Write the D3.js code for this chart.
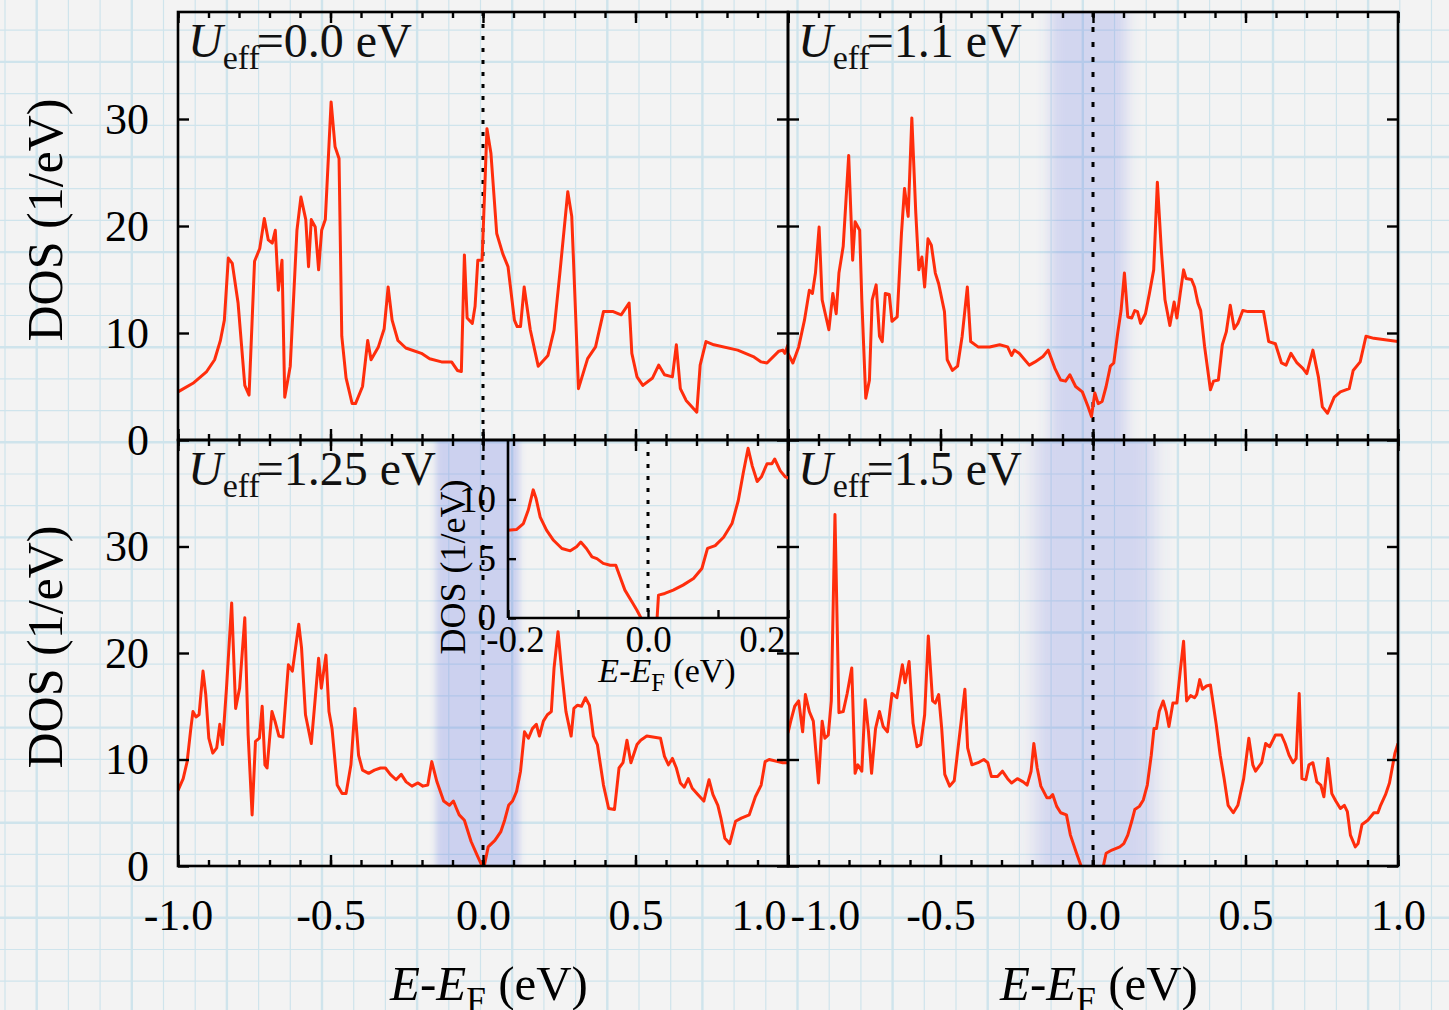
<!DOCTYPE html>
<html>
<head>
<meta charset="utf-8">
<script src="https://cdn.jsdelivr.net/npm/d3@7"></script>
<style>
html, body { margin: 0; padding: 0; background: #f3f3f3; }
svg { display: block; font-family: "Liberation Serif", "Times New Roman", serif; }
</style>
</head>
<body>
<div id="chart"></div>
<script>
// ---- data ----
const energyTicks = [-1.0, -0.5, 0.0, 0.5, 1.0];
const energyMinor = d3.range(-10, 11).map(i => i / 10);
const dosTicks = [0, 10, 20, 30];
const insetEnergyTicks = [-0.2, 0.0, 0.2];
const insetEnergyMinor = [-0.2, -0.1, 0.0, 0.1, 0.2];
const insetDosTicks = [0, 5, 10];
const uLabels = ["0.0", "1.1", "1.25", "1.5"];
// shaded gap windows (eV) for each panel
const gapWindows = [null, [-0.14, 0.11], [-0.155, 0.12], [-0.19, 0.2]];

const dosU00 = [[-1.0,4.5],[-0.951,5.3],[-0.906,6.4],[-0.880,7.5],[-0.861,9.3],[-0.848,11.2],[-0.835,17.0],[-0.822,16.5],[-0.803,12.8],[-0.781,5.1],[-0.767,4.2],[-0.749,16.7],[-0.732,17.9],[-0.717,20.7],[-0.704,18.7],[-0.691,18.4],[-0.681,19.6],[-0.671,14.0],[-0.659,16.8],[-0.650,4.0],[-0.632,6.9],[-0.610,19.6],[-0.597,22.7],[-0.581,20.6],[-0.572,16.2],[-0.563,20.6],[-0.550,19.9],[-0.539,15.9],[-0.529,19.6],[-0.517,20.6],[-0.498,31.6],[-0.485,27.4],[-0.472,26.3],[-0.463,9.7],[-0.449,5.8],[-0.429,3.4],[-0.418,3.4],[-0.395,5.0],[-0.378,9.3],[-0.367,7.5],[-0.343,8.7],[-0.324,10.4],[-0.311,14.3],[-0.298,11.2],[-0.279,9.3],[-0.253,8.6],[-0.202,8.1],[-0.175,7.6],[-0.136,7.3],[-0.103,7.3],[-0.084,6.5],[-0.071,6.4],[-0.061,17.3],[-0.052,11.4],[-0.035,10.9],[-0.026,12.5],[-0.017,16.8],[-0.003,16.8],[0.013,29.1],[0.026,26.8],[0.045,19.3],[0.065,17.4],[0.082,16.2],[0.103,11.2],[0.112,10.6],[0.123,10.6],[0.135,14.3],[0.155,10.3],[0.181,6.9],[0.213,7.9],[0.233,10.3],[0.252,15.6],[0.278,23.2],[0.291,20.9],[0.304,11.5],[0.313,4.8],[0.343,7.6],[0.369,8.7],[0.395,12.0],[0.427,12.0],[0.453,11.7],[0.479,12.8],[0.488,8.1],[0.505,5.9],[0.524,5.1],[0.556,5.8],[0.576,7.0],[0.595,6.1],[0.621,5.9],[0.634,8.9],[0.647,4.8],[0.666,3.7],[0.701,2.6],[0.712,7.0],[0.731,9.2],[0.757,8.9],[0.835,8.4],[0.886,7.8],[0.912,7.3],[0.931,7.2],[0.970,8.3],[0.983,8.4],[0.990,8.1],[1.0,8.9]];

const dosU11 = [[-1.0,8.1],[-0.984,7.2],[-0.965,8.7],[-0.946,11.2],[-0.930,14.0],[-0.920,13.7],[-0.910,15.6],[-0.898,19.9],[-0.888,13.1],[-0.866,10.3],[-0.853,13.7],[-0.842,11.8],[-0.833,15.6],[-0.819,18.1],[-0.801,26.6],[-0.788,16.8],[-0.780,20.4],[-0.765,19.6],[-0.758,13.1],[-0.745,3.9],[-0.733,5.6],[-0.724,13.1],[-0.711,14.5],[-0.700,9.7],[-0.691,9.2],[-0.681,13.7],[-0.668,13.6],[-0.659,11.1],[-0.642,11.5],[-0.628,19.3],[-0.618,23.5],[-0.606,20.9],[-0.594,30.1],[-0.581,21.2],[-0.571,15.9],[-0.561,17.1],[-0.552,14.3],[-0.541,18.8],[-0.530,18.2],[-0.517,15.6],[-0.506,14.6],[-0.487,12.0],[-0.478,7.5],[-0.461,6.5],[-0.444,6.9],[-0.429,9.7],[-0.412,14.3],[-0.401,9.2],[-0.377,8.7],[-0.339,8.7],[-0.306,8.9],[-0.280,8.7],[-0.267,7.9],[-0.258,8.4],[-0.242,8.1],[-0.209,7.0],[-0.190,7.3],[-0.164,7.8],[-0.147,8.4],[-0.125,6.7],[-0.106,5.6],[-0.090,5.5],[-0.076,6.1],[-0.057,5.0],[-0.035,4.5],[-0.016,3.1],[-0.005,2.2],[0.006,4.4],[0.017,3.4],[0.030,3.6],[0.043,5.0],[0.057,6.9],[0.068,7.2],[0.081,10.0],[0.092,12.1],[0.103,15.6],[0.114,11.5],[0.127,11.4],[0.137,12.1],[0.146,12.0],[0.156,10.9],[0.172,11.8],[0.185,13.7],[0.199,15.9],[0.211,24.1],[0.224,17.8],[0.236,13.1],[0.252,10.7],[0.266,12.9],[0.275,11.4],[0.286,13.7],[0.297,15.9],[0.305,15.1],[0.323,15.0],[0.333,14.3],[0.344,12.8],[0.353,12.1],[0.366,8.7],[0.385,4.7],[0.395,5.5],[0.411,5.6],[0.424,8.9],[0.437,10.1],[0.450,12.6],[0.463,10.4],[0.475,10.9],[0.491,12.1],[0.508,12.0],[0.559,12.0],[0.576,9.2],[0.598,9.0],[0.618,7.2],[0.633,7.0],[0.649,8.1],[0.669,7.2],[0.688,6.7],[0.701,6.2],[0.721,8.4],[0.739,5.9],[0.752,3.1],[0.769,2.5],[0.791,4.0],[0.811,4.5],[0.840,4.8],[0.853,6.5],[0.876,7.3],[0.895,9.7],[0.921,9.5],[1.0,9.2]];

const dosU125 = [[-1.0,7.1],[-0.983,8.2],[-0.970,9.8],[-0.958,12.9],[-0.951,14.5],[-0.941,14.0],[-0.931,14.2],[-0.918,18.3],[-0.909,16.1],[-0.899,12.0],[-0.886,10.6],[-0.873,11.1],[-0.863,13.3],[-0.854,11.4],[-0.841,16.7],[-0.824,24.7],[-0.811,14.8],[-0.798,16.7],[-0.781,23.3],[-0.770,12.3],[-0.757,4.8],[-0.746,11.7],[-0.733,12.0],[-0.724,15.0],[-0.715,9.5],[-0.708,9.2],[-0.692,14.5],[-0.682,13.6],[-0.669,12.2],[-0.656,12.1],[-0.638,18.9],[-0.625,18.3],[-0.604,22.7],[-0.595,20.5],[-0.582,14.2],[-0.563,11.5],[-0.552,15.1],[-0.539,19.5],[-0.530,16.7],[-0.515,19.8],[-0.505,14.5],[-0.495,12.9],[-0.478,7.6],[-0.462,6.8],[-0.449,6.8],[-0.433,9.5],[-0.420,14.8],[-0.408,10.4],[-0.395,9.0],[-0.375,8.7],[-0.356,9.0],[-0.336,9.2],[-0.320,9.2],[-0.304,8.6],[-0.285,8.1],[-0.268,8.6],[-0.252,7.9],[-0.233,7.5],[-0.213,7.8],[-0.197,7.5],[-0.181,7.6],[-0.168,9.8],[-0.151,7.9],[-0.129,6.1],[-0.110,5.7],[-0.097,6.1],[-0.087,5.4],[-0.078,4.8],[-0.061,4.3],[-0.039,2.3],[-0.019,1.0],[-0.003,0.0],[0.004,0.0],[0.017,1.8],[0.039,2.4],[0.058,3.2],[0.071,4.3],[0.084,5.7],[0.097,6.1],[0.110,7.0],[0.123,8.9],[0.136,12.6],[0.149,12.0],[0.162,12.9],[0.175,13.3],[0.185,12.2],[0.198,13.6],[0.211,14.2],[0.224,14.5],[0.233,18.6],[0.246,22.0],[0.259,18.0],[0.272,14.5],[0.289,12.2],[0.298,14.8],[0.310,15.1],[0.323,15.0],[0.336,15.8],[0.349,15.1],[0.362,12.2],[0.375,11.4],[0.395,7.6],[0.412,5.4],[0.431,5.3],[0.446,9.2],[0.459,9.7],[0.472,11.8],[0.485,9.7],[0.505,11.4],[0.517,11.8],[0.537,12.2],[0.582,12.0],[0.595,10.3],[0.608,9.5],[0.621,10.1],[0.634,9.2],[0.647,7.8],[0.660,7.4],[0.673,8.2],[0.686,7.3],[0.705,6.7],[0.724,6.1],[0.741,8.1],[0.754,6.7],[0.770,5.7],[0.780,4.5],[0.793,2.6],[0.809,2.1],[0.828,4.2],[0.847,4.5],[0.873,4.8],[0.893,6.5],[0.912,7.6],[0.925,9.8],[0.938,10.0],[0.983,9.7],[1.0,9.7]];

const dosU15 = [[-1.0,12.5],[-0.991,13.6],[-0.978,15.0],[-0.965,15.5],[-0.952,12.6],[-0.943,16.1],[-0.930,14.5],[-0.917,13.6],[-0.900,7.8],[-0.888,13.6],[-0.879,12.0],[-0.868,12.3],[-0.858,15.5],[-0.846,33.0],[-0.833,14.4],[-0.819,14.5],[-0.806,16.2],[-0.791,18.6],[-0.780,8.7],[-0.771,9.5],[-0.758,8.9],[-0.747,15.6],[-0.736,12.6],[-0.726,8.7],[-0.713,12.9],[-0.700,14.5],[-0.688,13.1],[-0.674,12.6],[-0.659,16.2],[-0.643,15.8],[-0.625,18.9],[-0.616,17.2],[-0.603,19.2],[-0.590,13.4],[-0.577,11.2],[-0.565,11.4],[-0.552,14.2],[-0.540,21.6],[-0.526,15.5],[-0.517,15.3],[-0.506,16.1],[-0.496,12.9],[-0.486,8.6],[-0.470,7.5],[-0.455,8.0],[-0.435,12.9],[-0.420,16.6],[-0.411,11.1],[-0.397,9.5],[-0.377,9.7],[-0.358,10.0],[-0.345,9.7],[-0.333,8.4],[-0.313,8.4],[-0.297,8.9],[-0.280,8.2],[-0.267,7.8],[-0.248,8.2],[-0.229,7.9],[-0.216,7.6],[-0.203,8.9],[-0.194,11.5],[-0.183,9.2],[-0.171,7.5],[-0.151,6.4],[-0.142,6.4],[-0.132,6.7],[-0.119,5.6],[-0.106,5.0],[-0.087,4.8],[-0.074,2.9],[-0.054,1.2],[-0.039,0.0],[0.0,null],[0.034,0.0],[0.043,1.2],[0.062,1.5],[0.088,1.8],[0.101,2.1],[0.114,2.9],[0.127,4.2],[0.137,5.3],[0.152,5.6],[0.165,6.2],[0.178,7.6],[0.191,10.4],[0.200,12.9],[0.208,12.9],[0.217,14.5],[0.230,15.5],[0.240,14.5],[0.249,13.1],[0.262,15.3],[0.275,15.3],[0.286,18.3],[0.297,21.1],[0.307,15.5],[0.320,16.0],[0.333,15.8],[0.340,16.1],[0.350,17.5],[0.359,16.6],[0.372,16.9],[0.385,17.0],[0.404,13.3],[0.417,10.4],[0.430,8.2],[0.443,5.7],[0.460,5.0],[0.475,5.7],[0.494,8.2],[0.511,12.0],[0.524,9.5],[0.533,8.9],[0.553,9.7],[0.566,11.5],[0.579,11.2],[0.598,12.3],[0.618,12.3],[0.630,11.5],[0.643,10.4],[0.656,9.7],[0.666,10.1],[0.676,16.2],[0.685,8.2],[0.698,8.1],[0.708,9.5],[0.721,9.7],[0.734,7.9],[0.747,7.6],[0.757,6.5],[0.770,10.1],[0.783,6.8],[0.796,6.1],[0.811,5.4],[0.824,5.7],[0.834,5.1],[0.844,2.9],[0.860,1.8],[0.869,2.1],[0.882,3.9],[0.901,4.3],[0.921,5.0],[0.934,5.0],[0.943,5.7],[0.959,6.7],[0.972,7.8],[0.990,10.6],[1.0,11.5]];

// inset: U_eff = 1.25 eV, zoom around E_F
const dosU125Zoom = [[-0.2,7.4],[-0.188,7.45],[-0.178,7.96],[-0.171,9.1],[-0.164,10.8],[-0.160,10.1],[-0.154,8.5],[-0.145,7.4],[-0.135,6.55],[-0.123,5.86],[-0.111,5.66],[-0.102,6.0],[-0.096,6.4],[-0.088,5.86],[-0.080,5.15],[-0.073,5.0],[-0.064,4.6],[-0.054,4.45],[-0.046,4.45],[-0.040,3.47],[-0.033,2.35],[-0.023,1.37],[-0.016,0.67],[-0.010,0],[0.0,null],[0.013,0],[0.015,1.93],[0.024,2.07],[0.036,2.35],[0.050,2.77],[0.065,3.33],[0.077,4.17],[0.085,5.86],[0.096,6.1],[0.108,6.8],[0.120,7.96],[0.129,9.9],[0.136,12.2],[0.143,14.3],[0.149,12.8],[0.156,11.5],[0.162,11.9],[0.170,13.0],[0.177,13.0],[0.181,13.4],[0.189,12.4],[0.196,11.9],[0.205,11.7]];

// ---- layout ----
const W = 1449, H = 1010;
const frame = { left: 178, right: 1398, top: 12, bottom: 866 };
const midX = 788, midY = 440;
const red = "#ff2d0c";
const tickFont = 44;

const svg = d3.select("#chart").append("svg").attr("width", W).attr("height", H);
const defs = svg.append("defs");

// graph paper background
const paper = svg.append("g").attr("class", "paper");
paper.append("rect").attr("width", W).attr("height", H).attr("fill", "#f3f3f3");
d3.range(5, W, 31.7).forEach((gx, i) => {
    paper.append("line").attr("x1", gx).attr("x2", gx).attr("y1", 0).attr("y2", H)
        .attr("stroke", "#cfe4ec").attr("stroke-width", i % 3 === 1 ? 2.4 : 1.2);
});
d3.range(-1.5, H, 31.7).forEach((gy, i) => {
    paper.append("line").attr("x1", 0).attr("x2", W).attr("y1", gy).attr("y2", gy)
        .attr("stroke", "#cfe4ec").attr("stroke-width", i % 3 === 2 ? 2.4 : 1.2);
});

const panels = [
    { id: 0, row: 0, col: 0, data: dosU00, dash: "4,8", blur: 0, bandOpacity: 0 },
    { id: 1, row: 0, col: 1, data: dosU11, dash: "5,10", blur: 7, bandOpacity: 0.2 },
    { id: 2, row: 1, col: 0, data: dosU125, dash: "5,10", blur: 3, bandOpacity: 0.24 },
    { id: 3, row: 1, col: 1, data: dosU15, dash: "5,10", blur: 10, bandOpacity: 0.2 }
];

function styleAxis(sel, size) {
    sel.attr("font-family", null).attr("font-size", size);
    sel.select(".domain").remove();
    sel.selectAll(".tick line").attr("stroke", "#000").attr("stroke-width", 2.4);
    sel.selectAll(".tick text").attr("fill", "#000");
}

function addEnergyLabel(g, cx, baseY, size) {
    const t = g.append("text").attr("x", cx).attr("y", baseY).attr("text-anchor", "middle")
        .attr("font-size", size).attr("fill", "#000");
    t.append("tspan").attr("font-style", "italic").text("E");
    t.append("tspan").text("-");
    t.append("tspan").attr("font-style", "italic").text("E");
    t.append("tspan").attr("font-size", size * 0.72).attr("dy", size * 0.25).text("F");
    t.append("tspan").attr("dy", -size * 0.25).text(" (eV)");
}

function addDosLabel(g, bx, cy, size) {
    g.append("text").attr("transform", `translate(${bx},${cy}) rotate(-90)`)
        .attr("text-anchor", "middle").attr("font-size", size).attr("fill", "#000")
        .text("DOS (1/eV)");
}

function drawPanel(p) {
    const x0 = p.col === 0 ? frame.left : midX, x1 = p.col === 0 ? midX : frame.right;
    const y0 = p.row === 0 ? frame.top : midY, y1 = p.row === 0 ? midY : frame.bottom;
    const x = d3.scaleLinear().domain([-1, 1]).range([x0, x1]);
    const y = d3.scaleLinear().domain([0, 40]).range([y1, y0]);
    const g = svg.append("g").attr("class", "panel" + p.id);

    const clipId = "clip" + p.id;
    defs.append("clipPath").attr("id", clipId).append("rect")
        .attr("x", x0).attr("y", y0).attr("width", x1 - x0).attr("height", y1 - y0);

    // shaded window around E_F
    const band = gapWindows[p.id];
    if (band) {
        defs.append("filter").attr("id", "blur" + p.id)
            .attr("x", "-100%").attr("width", "300%").attr("y", "0%").attr("height", "100%")
            .append("feGaussianBlur").attr("stdDeviation", `${p.blur} 0`);
        g.append("g").attr("clip-path", `url(#${clipId})`).append("rect")
            .attr("x", x(band[0])).attr("width", x(band[1]) - x(band[0]))
            .attr("y", y0).attr("height", y1 - y0)
            .attr("fill", "rgb(80,100,225)").attr("fill-opacity", p.bandOpacity)
            .attr("filter", `url(#blur${p.id})`);
    }

    // Fermi level
    g.append("line").attr("x1", x(0)).attr("x2", x(0)).attr("y1", y0).attr("y2", y1)
        .attr("stroke", "#000").attr("stroke-width", 3).attr("stroke-dasharray", p.dash);

    const line = d3.line().defined(d => d[1] !== null).x(d => x(d[0])).y(d => y(d[1]));
    g.append("path").datum(p.data).attr("clip-path", `url(#${clipId})`)
        .attr("d", line).attr("fill", "none").attr("stroke", red)
        .attr("stroke-width", 3).attr("stroke-linejoin", "round");

    // axes, ticks inward on all four sides
    const showX = p.row === 1, showY = p.col === 0;
    g.append("g").attr("transform", `translate(0,${y1})`)
        .call(d3.axisBottom(x).tickValues(energyMinor).tickSize(-6).tickFormat(""))
        .call(s => styleAxis(s, tickFont));
    const xb = g.append("g").attr("transform", `translate(0,${y1})`)
        .call(d3.axisBottom(x).tickValues(energyTicks).tickSize(-11).tickPadding(33)
            .tickFormat(showX ? d3.format(".1f") : ""))
        .call(s => styleAxis(s, tickFont));
    xb.selectAll(".tick text").text(d => showX ? (d < 0 ? "-" : "") + Math.abs(d).toFixed(1) : "");
    if (showX && p.col === 0) xb.selectAll(".tick text").filter(d => d === 1).attr("text-anchor", "end").attr("x", -2);
    if (showX && p.col === 1) xb.selectAll(".tick text").filter(d => d === -1).attr("text-anchor", "start").attr("x", 2);

    g.append("g").attr("transform", `translate(0,${y0})`)
        .call(d3.axisTop(x).tickValues(energyMinor).tickSize(-6).tickFormat(""))
        .call(s => styleAxis(s, tickFont));
    g.append("g").attr("transform", `translate(0,${y0})`)
        .call(d3.axisTop(x).tickValues(energyTicks).tickSize(-11).tickFormat(""))
        .call(s => styleAxis(s, tickFont));

    g.append("g").attr("transform", `translate(${x0},0)`)
        .call(d3.axisLeft(y).tickValues(dosTicks).tickSize(-11).tickPadding(29)
            .tickFormat(showY ? d3.format("d") : ""))
        .call(s => styleAxis(s, tickFont));
    g.append("g").attr("transform", `translate(${x1},0)`)
        .call(d3.axisRight(y).tickValues(dosTicks).tickSize(-11).tickFormat(""))
        .call(s => styleAxis(s, tickFont));

    g.append("rect").attr("x", x0).attr("y", y0).attr("width", x1 - x0).attr("height", y1 - y0)
        .attr("fill", "none").attr("stroke", "#000").attr("stroke-width", 2.6);

    // U_eff label
    const lab = g.append("text").attr("x", x0 + 10).attr("y", y0 + 45).attr("font-size", 48).attr("fill", "#111");
    lab.append("tspan").attr("font-style", "italic").text("U");
    lab.append("tspan").attr("font-size", 34).attr("dy", 12).text("eff");
    lab.append("tspan").attr("dy", -12).attr("dx", -3).text(`=${uLabels[p.id]} eV`);

    if (showY) addDosLabel(g, 62, (y0 + y1) / 2 - 6, 50);
    if (showX) addEnergyLabel(g, x(0) + 6, 1000, 49);
}

panels.forEach(drawPanel);

// ---- inset in the U=1.25 eV panel ----
const ix = d3.scaleLinear().domain([-0.2, 0.2]).range([508, midX]);
const iy = d3.scaleLinear().domain([0, 15]).range([618, midY]);
const inset = svg.append("g").attr("class", "inset");
defs.append("clipPath").attr("id", "clipInset").append("rect")
    .attr("x", ix(-0.2)).attr("y", iy(15)).attr("width", ix(0.2) - ix(-0.2)).attr("height", iy(0) - iy(15));

inset.append("line").attr("x1", ix(0)).attr("x2", ix(0)).attr("y1", iy(15)).attr("y2", iy(0))
    .attr("stroke", "#000").attr("stroke-width", 3).attr("stroke-dasharray", "4,8");
inset.append("path").datum(dosU125Zoom).attr("clip-path", "url(#clipInset)")
    .attr("d", d3.line().defined(d => d[1] !== null).x(d => ix(d[0])).y(d => iy(d[1])))
    .attr("fill", "none").attr("stroke", red).attr("stroke-width", 3).attr("stroke-linejoin", "round");

const ixAxis = inset.append("g").attr("transform", `translate(0,${iy(0)})`)
    .call(d3.axisBottom(ix).tickValues(insetEnergyMinor).tickSize(-8).tickPadding(8)
        .tickFormat(d => insetEnergyTicks.some(t => Math.abs(t - d) < 1e-9) ? (d < 0 ? "-" : "") + Math.abs(d).toFixed(1) : ""))
    .call(s => styleAxis(s, 37));
ixAxis.selectAll(".tick text").filter(d => d > 0.15).attr("text-anchor", "end").attr("x", -3);
ixAxis.selectAll(".tick text").filter(d => d < -0.15).attr("x", 7);

inset.append("g").attr("transform", `translate(${ix(-0.2)},0)`)
    .call(d3.axisLeft(iy).tickValues(insetDosTicks).tickSize(-8).tickPadding(12).tickFormat(d3.format("d")))
    .call(s => styleAxis(s, 37));

inset.append("line").attr("x1", ix(-0.2)).attr("x2", ix(0.2)).attr("y1", iy(0)).attr("y2", iy(0))
    .attr("stroke", "#000").attr("stroke-width", 2.6);
inset.append("line").attr("x1", ix(-0.2)).attr("x2", ix(-0.2)).attr("y1", iy(15)).attr("y2", iy(0))
    .attr("stroke", "#000").attr("stroke-width", 2.6);

addDosLabel(inset, 465, 567, 36);
addEnergyLabel(inset, 667, 682, 34);
</script>
</body>
</html>
